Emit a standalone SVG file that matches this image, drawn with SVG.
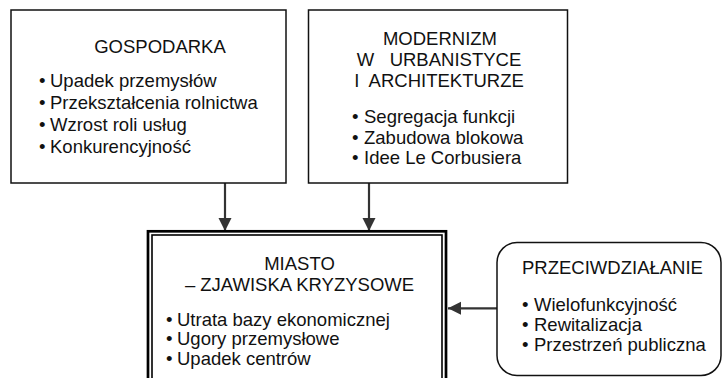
<svg xmlns="http://www.w3.org/2000/svg" width="723" height="378" viewBox="0 0 723 378">
<defs>
<style>
text{font-family:"Liberation Sans",Arial,sans-serif;font-size:18.5px;fill:#111}
.t{text-anchor:middle}
.box{fill:#fff;stroke:#111;stroke-width:1.5}
.conn{stroke:#333;stroke-width:2.2;fill:none}
</style>
<marker id="ah" markerUnits="userSpaceOnUse" markerWidth="14" markerHeight="14" refX="13" refY="6.5" orient="auto">
<path d="M0,0 L13,6.5 L0,13 Z" fill="#333"/>
</marker>
</defs>
<rect width="723" height="378" fill="#fff"/>
<g id="connectors">
<line class="conn" x1="225" y1="183" x2="225" y2="231" marker-end="url(#ah)"/>
<line class="conn" x1="369" y1="183" x2="369" y2="231" marker-end="url(#ah)"/>
<line class="conn" x1="497" y1="308.3" x2="448" y2="308.3" marker-end="url(#ah)"/>
</g>
<g id="gospodarka">
<rect class="box" x="11" y="10" width="275" height="173"/>
<text class="t" x="160" y="53">GOSPODARKA</text>
<text x="39" y="87.3">•</text><text x="50" y="87.3">Upadek przemysłów</text>
<text x="39" y="109.3">•</text><text x="50" y="109.3">Przekształcenia rolnictwa</text>
<text x="39" y="131">•</text><text x="50" y="131">Wzrost roli usług</text>
<text x="39" y="152.8">•</text><text x="50" y="152.8">Konkurencyjność</text>
</g>
<g id="modernizm">
<rect class="box" x="308.5" y="10" width="259" height="173"/>
<text class="t" x="440" y="44.5">MODERNIZM</text>
<text class="t" x="439" y="65.5" xml:space="preserve">W   URBANISTYCE</text>
<text class="t" x="439" y="86.5" xml:space="preserve">I  ARCHITEKTURZE</text>
<text x="352" y="123">•</text><text x="364" y="123">Segregacja funkcji</text>
<text x="352" y="143.5">•</text><text x="364" y="143.5">Zabudowa blokowa</text>
<text x="352" y="164">•</text><text x="364" y="164">Idee Le Corbusiera</text>
</g>
<g id="miasto">
<rect x="148" y="231.3" width="298" height="170" fill="#fff" stroke="#000" stroke-width="2.7"/>
<rect x="152" y="235" width="290" height="170" fill="none" stroke="#000" stroke-width="1.6"/>
<text class="t" x="299.5" y="270">MIASTO</text>
<text class="t" x="299.5" y="291">– ZJAWISKA KRYZYSOWE</text>
<text x="166" y="325.5">•</text><text x="177" y="325.5">Utrata bazy ekonomicznej</text>
<text x="166" y="345">•</text><text x="177" y="345">Ugory przemysłowe</text>
<text x="166" y="364.5">•</text><text x="177" y="364.5">Upadek centrów</text>
</g>
<g id="przeciwdzialanie">
<rect class="box" x="497" y="242.5" width="224" height="133" rx="20" ry="20"/>
<text class="t" x="612.5" y="274">PRZECIWDZIAŁANIE</text>
<text x="522" y="310.7">•</text><text x="534" y="310.7">Wielofunkcyjność</text>
<text x="522" y="330.5">•</text><text x="534" y="330.5">Rewitalizacja</text>
<text x="522" y="350.5">•</text><text x="534" y="350.5">Przestrzeń publiczna</text>
</g>
</svg>
